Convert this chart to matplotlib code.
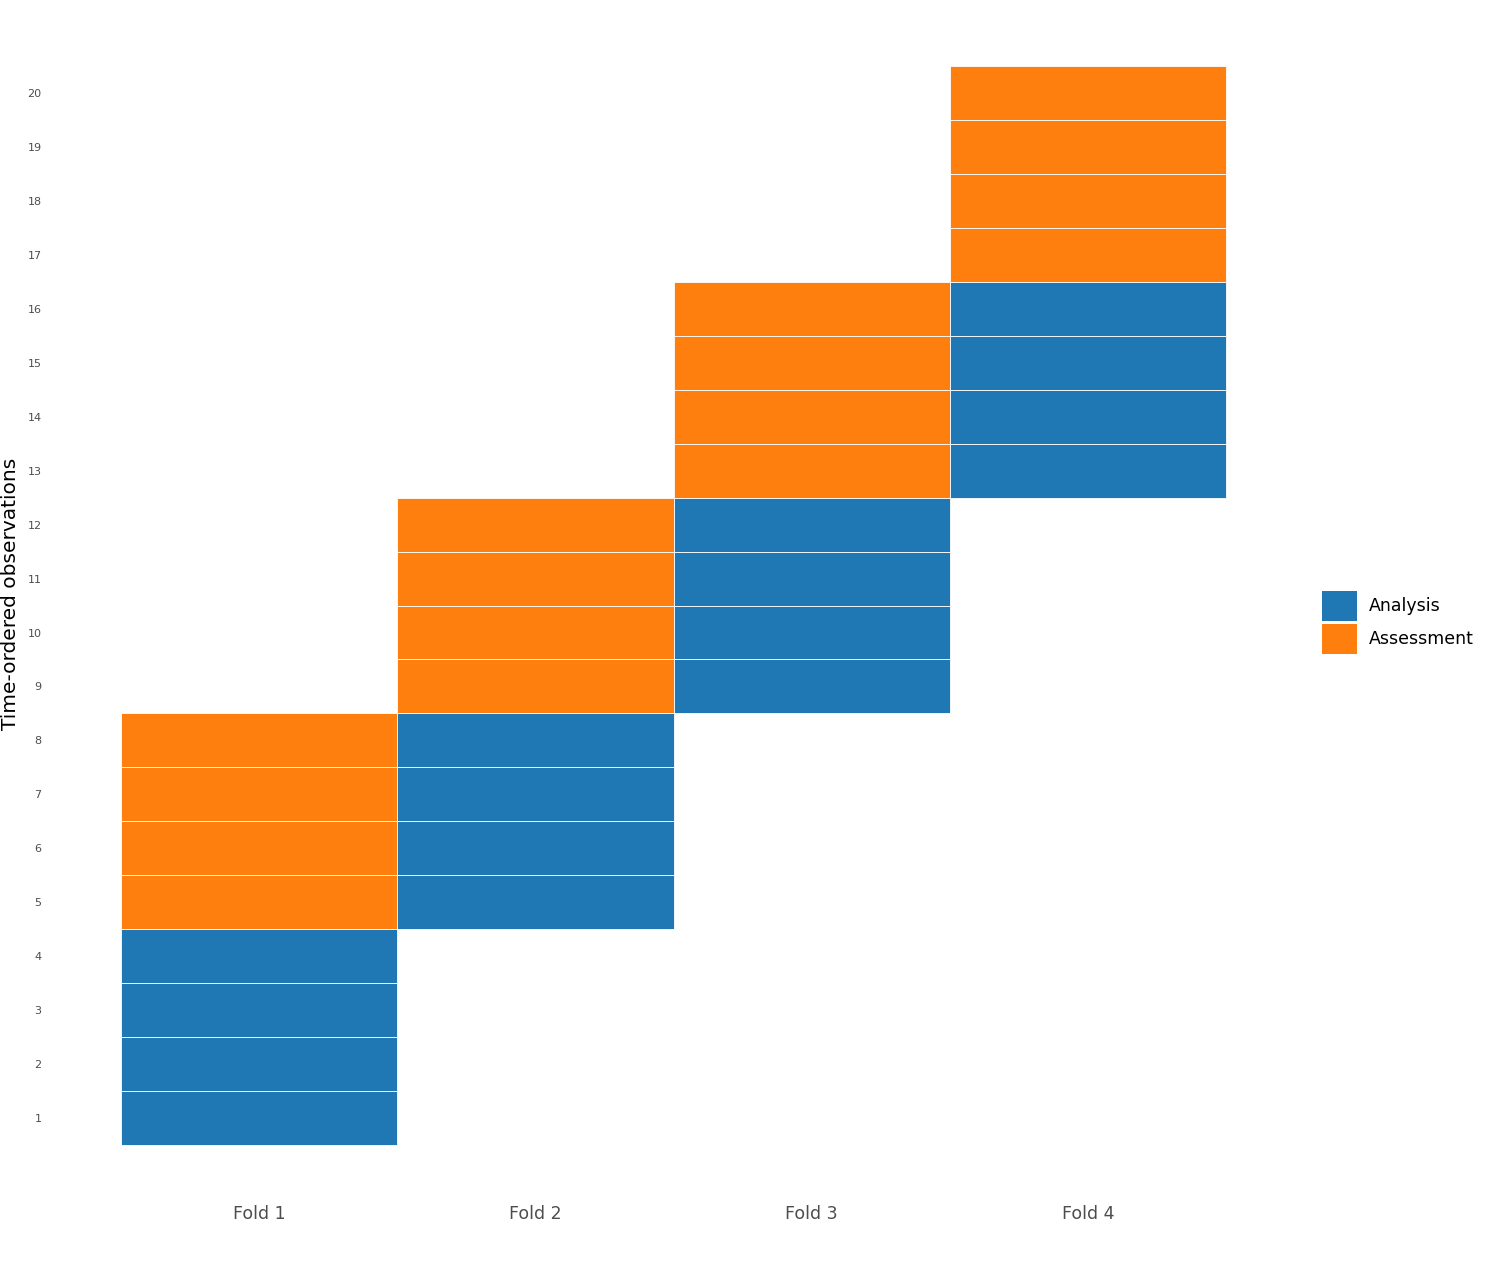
import matplotlib.pyplot as plt
from matplotlib.patches import Patch

# data: each fold has its analysis rows and assessment rows
folds = ['Fold 1', 'Fold 2', 'Fold 3', 'Fold 4']
analysis_rows = [[1, 2, 3, 4], [5, 6, 7, 8], [9, 10, 11, 12], [13, 14, 15, 16]]
assessment_rows = [[5, 6, 7, 8], [9, 10, 11, 12], [13, 14, 15, 16], [17, 18, 19, 20]]
y_ticks = list(range(1, 21))

c_analysis = '#1F77B4'
c_assess = '#FF7F0E'

fig = plt.figure(figsize=(14.98, 12.7), dpi=100)
ax = fig.add_axes([0.0621, 0.0559, 0.775, 0.9346])

for i, f in enumerate(folds):
    x = i + 1
    for r in analysis_rows[i]:
        ax.bar(x, 1, bottom=r - 0.5, width=1, color=c_analysis, edgecolor='white', linewidth=0.6)
    for r in assessment_rows[i]:
        ax.bar(x, 1, bottom=r - 0.5, width=1, color=c_assess, edgecolor='white', linewidth=0.6)

ax.set_xlim(0.4, len(folds) + 0.6)
ax.set_ylim(-0.5, 21.5)
ax.set_xticks(range(1, len(folds) + 1))
ax.set_xticklabels(folds, fontsize=12.5, color='#4D4D4D')
ax.set_yticks(y_ticks)
ax.set_yticklabels([str(t) for t in y_ticks], fontsize=8, color='#4D4D4D')
ax.tick_params(length=0)
ax.tick_params(axis='x', pad=4)
ax.tick_params(axis='y', pad=37)
for s in ax.spines.values():
    s.set_visible(False)
ax.set_ylabel('Time-ordered observations', fontsize=14.5)
ax.yaxis.set_label_coords(-0.063, 0.51)

handles = [Patch(facecolor=c_analysis, label='Analysis'),
           Patch(facecolor=c_assess, label='Assessment')]
fig.legend(handles=handles, loc='center left', bbox_to_anchor=(0.872, 0.51),
           frameon=False, fontsize=12.5, handlelength=2.0, handleheight=2.3,
           handletextpad=0.7, labelspacing=0.15)

fig.savefig('out.png', dpi=100, facecolor='white')
